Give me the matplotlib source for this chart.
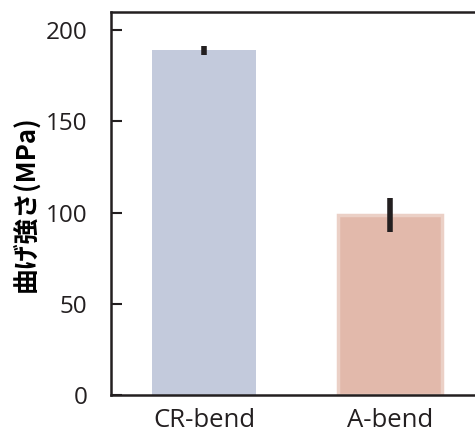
import matplotlib
matplotlib.use("Agg")
import matplotlib.pyplot as plt

categories = ["CR-bend", "A-bend"]
values = [189, 98.5]
errors = [2.5, 9.3]
colors = ["#C3CADC", "#E2B9AB"]
edge_colors = ["#C3CADC", "#EBD0C6"]
yticks = [0, 50, 100, 150, 200]

plt.rcParams['font.family'] = ['Open Sans', 'Noto Sans CJK JP', 'DejaVu Sans']

fig = plt.figure(figsize=(4.75, 4.32), dpi=100)
ax = fig.add_axes([0.2337, 0.0856, 0.7663, 0.8866])

x = list(range(len(categories)))
ax.bar(x, values, width=0.56, color=colors, edgecolor=edge_colors, linewidth=[0, 2.5], zorder=2)
ax.errorbar(x, values, yerr=errors, fmt='none', ecolor='#231F20', elinewidth=4, capsize=0, zorder=3)

ax.set_xlim(-0.5, 1.457)
ax.set_ylim(0, 210)
ax.set_yticks(yticks)
ax.set_xticks(x)
ax.set_xticklabels(categories, fontsize=18.5)
ax.tick_params(axis='y', direction='in', length=8, width=1.5, labelsize=17.5, pad=17, colors='#231F20')
ax.tick_params(axis='x', length=0, pad=9, labelsize=18.5, colors='#231F20')
ax.set_ylabel("曲げ強さ(MPa)", fontsize=18.5, fontweight='bold',
              family=['Noto Sans CJK JP', 'DejaVu Sans'], labelpad=4)

ax.spines['right'].set_visible(False)
for s in ['left', 'top', 'bottom']:
    ax.spines[s].set_linewidth(1.8)
    ax.spines[s].set_color('#231F20')

fig.savefig("out.png", dpi=100)
